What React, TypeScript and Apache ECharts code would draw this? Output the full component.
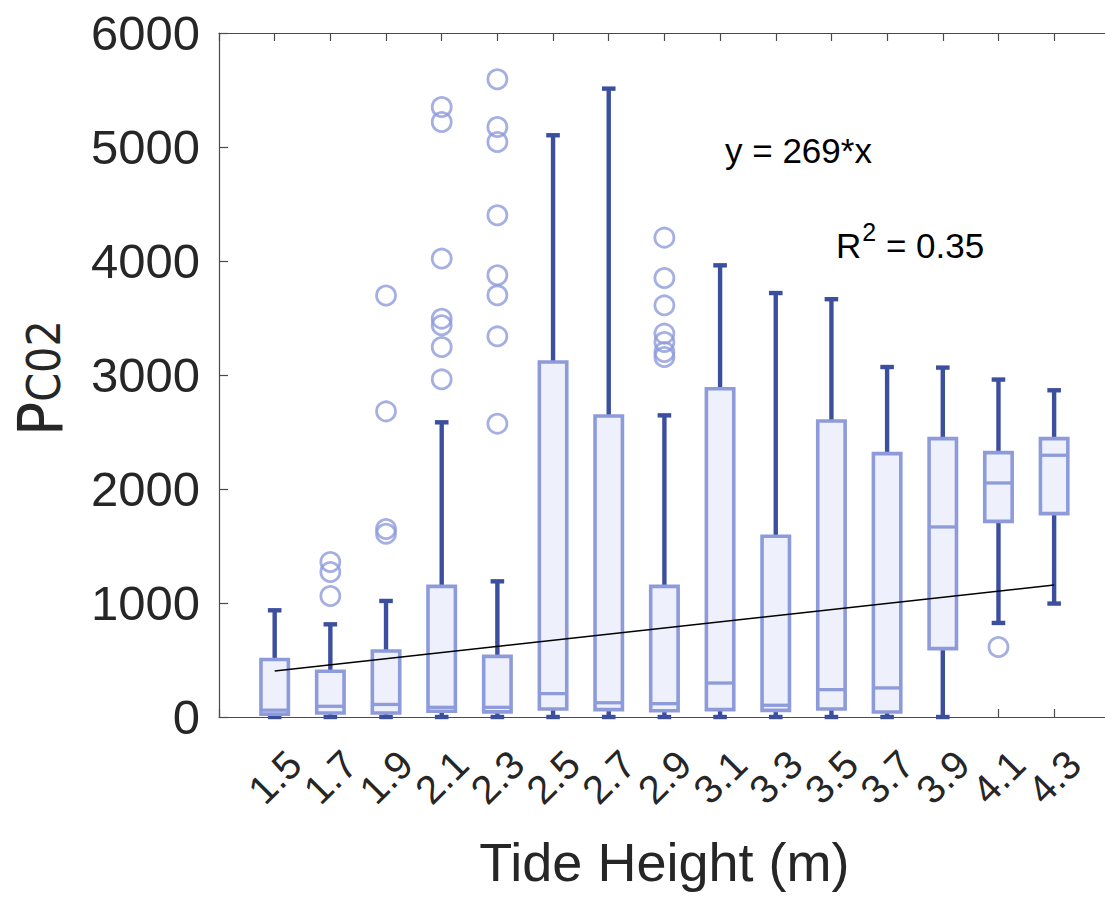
import React, { useEffect, useRef } from "react";
import * as echarts from "echarts";

// ---- data ----
const categories = ["1.5", "1.7", "1.9", "2.1", "2.3", "2.5", "2.7", "2.9", "3.1", "3.3", "3.5", "3.7", "3.9", "4.1", "4.3"];
const whiskerLow = [0, 0, 0, 0, 0, 0, 0, 0, 0, 0, 0, 0, 0, 825, 995];
const quartile1 = [25, 35, 35, 50, 45, 70, 65, 55, 65, 58, 70, 44, 600, 1716, 1784];
const medians = [60, 94, 110, 85, 85, 205, 125, 117, 298, 103, 240, 255, 1667, 2053, 2296];
const quartile3 = [505, 401, 579, 1146, 532, 3114, 2641, 1146, 2880, 1585, 2597, 2310, 2442, 2319, 2442];
const whiskerHigh = [936, 813, 1018, 2585, 1190, 5103, 5512, 2646, 3962, 3719, 3665, 3070, 3065, 2960, 2866];
const outliers: [string, number][] = [
  ["1.7", 1360], ["1.7", 1272], ["1.7", 1061],
  ["1.9", 3697], ["1.9", 2681], ["1.9", 1649], ["1.9", 1608],
  ["2.1", 5351], ["2.1", 5219], ["2.1", 4021], ["2.1", 3494], ["2.1", 3436], ["2.1", 3246], ["2.1", 2962],
  ["2.3", 5594], ["2.3", 5175], ["2.3", 5044], ["2.3", 4401], ["2.3", 3875], ["2.3", 3699], ["2.3", 3339], ["2.3", 2573],
  ["2.9", 4205], ["2.9", 3851], ["2.9", 3611], ["2.9", 3363], ["2.9", 3290], ["2.9", 3202], ["2.9", 3158],
  ["4.1", 614],
];
const trendEnds: [string, number][] = [["1.5", 404], ["4.3", 1157]];
const yTicks = { min: 0, max: 6000, interval: 1000 };

const BOX_EDGE = "#8e9bdb";
const BOX_FILL = "#eef1fb";
const WHISKER = "#3c4f9f";
const TEXT = "#262626";
const AXIS = "#4a4a4a";
const FONT = "'Liberation Sans', Arial, Helvetica, sans-serif";
const NARROW = "'Liberation Sans Narrow', 'DejaVu Sans Condensed', sans-serif";

export default function App() {
  const ref = useRef<HTMLDivElement>(null);
  useEffect(() => {
    if (!ref.current) return;
    const chart = echarts.init(ref.current, null, { renderer: "svg" });
    const axisCats = ["", ...categories, " "];
    const boxData = categories.map((c, i) => [c, whiskerLow[i], quartile1[i], medians[i], quartile3[i], whiskerHigh[i]]);
    const axisLineStyle = { color: AXIS, width: 1.2 };
    chart.setOption({
      animation: false,
      grid: { left: 219, top: 33, width: 899, bottom: 180 },
      xAxis: [
        {
          type: "category",
          data: axisCats,
          boundaryGap: false,
          position: "bottom",
          axisLine: { onZero: false, lineStyle: axisLineStyle },
          axisTick: { inside: true, length: 8, interval: 0, lineStyle: axisLineStyle },
          axisLabel: {
            interval: 0,
            rotate: 45,
            align: "center",
            verticalAlign: "middle",
            margin: 60,
            fontSize: 40,
            color: TEXT,
            fontFamily: FONT,
          },
          splitLine: { show: false },
          name: "Tide Height (m)",
          nameLocation: "middle",
          nameGap: 118,
          nameTextStyle: { fontSize: 54, color: TEXT, fontFamily: FONT },
        },
        {
          type: "category",
          data: axisCats,
          boundaryGap: false,
          position: "top",
          axisLine: { onZero: false, lineStyle: axisLineStyle },
          axisTick: { inside: true, length: 8, interval: 0, lineStyle: axisLineStyle },
          axisLabel: { show: false },
          splitLine: { show: false },
        },
      ],
      yAxis: {
        type: "value",
        min: yTicks.min,
        max: yTicks.max,
        interval: yTicks.interval,
        axisLine: { show: true, lineStyle: axisLineStyle },
        axisTick: { show: true, inside: true, length: 9, lineStyle: axisLineStyle },
        axisLabel: { fontSize: 49, color: TEXT, fontFamily: FONT, margin: 19, formatter: (v: number) => String(v) },
        splitLine: { show: false },
      },
      graphic: [
        {
          type: "text",
          x: 9,
          y: 436,
          rotation: Math.PI / 2,
          style: {
            text: "{p|P}{c|C02}",
            align: "left",
            verticalAlign: "top",
            fill: TEXT,
            rich: {
              p: { fontSize: 63, fontFamily: NARROW, fill: TEXT, verticalAlign: "bottom", lineHeight: 63 },
              c: { fontSize: 46, fontFamily: NARROW, fill: TEXT, verticalAlign: "bottom", lineHeight: 46, padding: [0, 0, 5, 0] },
            },
          },
        },
        {
          type: "text",
          x: 725,
          y: 150,
          style: { text: "y = 269*x", fontSize: 35, fontFamily: FONT, fill: "#000", align: "left", verticalAlign: "middle" },
        },
        {
          type: "text",
          x: 836,
          y: 263,
          style: {
            text: "{a|R}{s|2}{a| = 0.35}",
            align: "left",
            verticalAlign: "bottom",
            fill: "#000",
            rich: {
              a: { fontSize: 35, fontFamily: FONT, fill: "#000", lineHeight: 35, verticalAlign: "bottom" },
              s: { fontSize: 25, fontFamily: FONT, fill: "#000", lineHeight: 25, verticalAlign: "bottom", padding: [0, 0, 19, 1] },
            },
          },
        },
      ],
      series: [
        {
          type: "custom",
          name: "box",
          z: 2,
          encode: { x: 0, y: [1, 2, 3, 4, 5] },
          data: boxData,
          renderItem: (params: any, api: any) => {
            const xi = api.value(0);
            const pMin = api.coord([xi, api.value(1)]);
            const pQ1 = api.coord([xi, api.value(2)]);
            const pMed = api.coord([xi, api.value(3)]);
            const pQ3 = api.coord([xi, api.value(4)]);
            const pMax = api.coord([xi, api.value(5)]);
            const cx = pMin[0];
            const hw = 13.7;
            const cap = 6.8;
            const ws = { stroke: WHISKER, lineWidth: 4.4 };
            return {
              type: "group",
              children: [
                { type: "line", shape: { x1: cx, y1: pMax[1], x2: cx, y2: pQ3[1] }, style: ws },
                { type: "line", shape: { x1: cx, y1: pQ1[1], x2: cx, y2: pMin[1] }, style: ws },
                { type: "line", shape: { x1: cx - cap, y1: pMax[1], x2: cx + cap, y2: pMax[1] }, style: ws },
                { type: "line", shape: { x1: cx - cap, y1: pMin[1], x2: cx + cap, y2: pMin[1] }, style: ws },
                {
                  type: "rect",
                  shape: { x: cx - hw, y: pQ3[1], width: hw * 2, height: pQ1[1] - pQ3[1] },
                  style: { fill: BOX_FILL, stroke: BOX_EDGE, lineWidth: 3.6 },
                },
                { type: "line", shape: { x1: cx - hw, y1: pMed[1], x2: cx + hw, y2: pMed[1] }, style: { stroke: BOX_EDGE, lineWidth: 3.3 } },
              ],
            };
          },
        },
        {
          type: "scatter",
          name: "outliers",
          z: 3,
          data: outliers,
          symbol: "circle",
          symbolSize: 19,
          itemStyle: { color: "rgba(0,0,0,0)", borderColor: BOX_EDGE, borderWidth: 2.8 },
        },
        {
          type: "line",
          name: "fit",
          z: 4,
          data: trendEnds,
          symbol: "none",
          lineStyle: { color: "#000", width: 1.5 },
        },
      ],
    });
    return () => chart.dispose();
  }, []);
  return (
    <div style={{ position: "absolute", left: 0, top: 0, width: 1105, height: 897, overflow: "hidden", background: "#fff" }}>
      <div ref={ref} style={{ width: 1130, height: 897 }} />
    </div>
  );
}
